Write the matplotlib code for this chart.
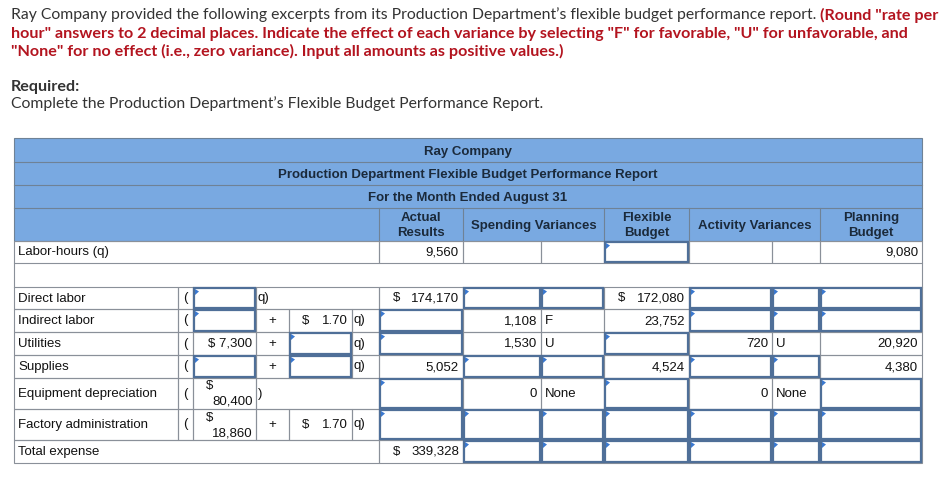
import matplotlib
matplotlib.use("Agg")
import matplotlib.pyplot as plt
from matplotlib.patches import Rectangle, Polygon

# ---- text of the exercise ----
intro_plain = "Ray Company provided the following excerpts from its Production Department\u2019s flexible budget performance report."
intro_red = ['(Round "rate per',
             'hour" answers to 2 decimal places. Indicate the effect of each variance by selecting "F" for favorable, "U" for unfavorable, and',
             '"None" for no effect (i.e., zero variance). Input all amounts as positive values.)']
required_label = "Required:"
required_text = "Complete the Production Department\u2019s Flexible Budget Performance Report."

# ---- report ----
title_lines = ["Ray Company", "Production Department Flexible Budget Performance Report",
               "For the Month Ended August 31"]
col_heads = ["Actual\nResults", "Spending Variances", "Flexible\nBudget", "Activity Variances", "Planning\nBudget"]

hours_label = "Labor-hours (q)"
hours_actual = "9,560"
hours_planning = "9,080"

cost_items = ["Direct labor", "Indirect labor", "Utilities", "Supplies",
              "Equipment depreciation", "Factory administration"]
total_label = "Total expense"
# cost formula pieces, "" = answer box, None = no cell
fixed_cost = ["", "", "$ 7,300", "", "$ 80,400", "$ 18,860"]
formula_op = ["q)", "+", "+", "+", ")", "+"]
rate_per_hour = [None, "$ 1.70", "", "", None, "$ 1.70"]

# report columns (last entry = total expense), "" = answer box
actual = ["$ 174,170", "", "", "5,052", "", "", "$ 339,328"]
spend_amt = ["", "1,108", "1,530", "", "0", "", ""]
spend_eff = ["", "F", "U", "", "None", "", ""]
flexible = ["$ 172,080", "23,752", "", "4,524", "", "", ""]
activ_amt = ["", "", "720", "", "0", "", ""]
activ_eff = ["", "", "U", "", "None", "", ""]
planning = ["", "", "20,920", "4,380", "", "", ""]

# ---- layout (pixels) ----
HEAD_BG = "#79a9e1"
GRID = "#8a9099"
HEAD_GRID = "#6f8296"
BOX = "#4f6f98"
TRI = "#3a78cf"
HEAD_TXT = "#1b2a3b"
FS = 9.5
TFONT = "Liberation Sans"

XL, XR = 14, 922
X_LAB, X_PAR, X_FIX, X_OP, X_VAR, X_FRM = 178, 193, 256, 289, 352, 379
COLS = [379, 463, 541, 604, 689, 772, 820, 922]
HEAD_Y = [138, 162, 185, 208, 241]
HOURS_Y = (241, 263)
BODY_Y = [287, 309, 332, 355, 378, 409, 440, 463]

fig = plt.figure(figsize=(9.43, 4.78), dpi=100)
ax = fig.add_axes([0, 0, 1, 1])
ax.set_xlim(0, 943)
ax.set_ylim(478, 0)
ax.axis("off")


def cell(x0, x1, y0, y1):
    ax.add_patch(Rectangle((x0, y0), x1 - x0, y1 - y0, fill=False, ec=GRID, lw=0.8, zorder=2))


def answer_box(x0, x1, y0, y1):
    ax.add_patch(Rectangle((x0 + 1, y0 + 1), x1 - x0 - 2, y1 - y0 - 2, fc="white", ec=BOX, lw=1.6, zorder=3))
    ax.add_patch(Polygon([(x0 + 2, y0 + 2), (x0 + 2, y0 + 8), (x0 + 6, y0 + 4.5)], closed=True,
                         color=TRI, lw=0, zorder=4))


def txt(x, y, s, ha="left", **kw):
    ax.text(x, y, s, ha=ha, va="center", fontsize=FS, family=TFONT, color="#111111", zorder=5, **kw)


def money(s, x0, x1, y0, y1, dollar_pad=14):
    yc = (y0 + y1) / 2 + 0.5
    if s.startswith("$ "):
        txt(x0 + dollar_pad, yc, "$")
        txt(x1 - 4, yc, s[2:], ha="right")
    else:
        txt(x1 - 4, yc, s, ha="right")


def value_or_box(s, x0, x1, y0, y1, letter=False):
    cell(x0, x1, y0, y1)
    if s == "":
        answer_box(x0, x1, y0, y1)
    elif letter:
        txt(x0 + 4, (y0 + y1) / 2 + 0.5, s)
    else:
        money(s, x0, x1, y0, y1)


# ---- intro text ----
renderer = fig.canvas.get_renderer()
IFS, IFS_B = 11.3, 11.6
RED, GREY = "#b3141f", "#333333"
t = ax.text(11, 15, intro_plain, fontsize=IFS, family="Lato", color=GREY, va="center")
bb = t.get_window_extent(renderer)
ax.text(bb.x1 + 4, 15, intro_red[0], fontsize=IFS_B, family="Lato", weight="bold", color=RED, va="center")
ax.text(11, 33.5, intro_red[1], fontsize=IFS_B, family="Lato", weight="bold", color=RED, va="center")
ax.text(11, 51.5, intro_red[2], fontsize=IFS_B, family="Lato", weight="bold", color=RED, va="center")
ax.text(11, 87, required_label, fontsize=IFS_B, family="Lato", weight="bold", color=GREY, va="center")
ax.text(11, 104, required_text, fontsize=IFS, family="Lato", color=GREY, va="center")

# ---- header ----
ax.add_patch(Rectangle((XL, HEAD_Y[0]), XR - XL, HEAD_Y[-1] - HEAD_Y[0], fc=HEAD_BG, ec=HEAD_GRID, lw=0.8, zorder=1))
for y in HEAD_Y[1:-1]:
    ax.plot([XL, XR], [y, y], color=HEAD_GRID, lw=0.8, zorder=2)
for i, s in enumerate(title_lines):
    ax.text((XL + XR) / 2, (HEAD_Y[i] + HEAD_Y[i + 1]) / 2 + 1.5, s, ha="center", va="center",
            fontsize=FS, family=TFONT, weight="bold", color=HEAD_TXT, zorder=5)
head_spans = [(COLS[0], COLS[1]), (COLS[1], COLS[3]), (COLS[3], COLS[4]), (COLS[4], COLS[6]), (COLS[6], COLS[7])]
for (x0, x1), s in zip(head_spans, col_heads):
    ax.plot([x0, x0], [HEAD_Y[3], HEAD_Y[4]], color=HEAD_GRID, lw=0.8, zorder=2)
    ax.text((x0 + x1) / 2, (HEAD_Y[3] + HEAD_Y[4]) / 2 + 1, s, ha="center", va="center", linespacing=1.25,
            fontsize=FS, family=TFONT, weight="bold", color=HEAD_TXT, zorder=5)

# ---- labor-hours row ----
y0, y1 = HOURS_Y
cell(XL, X_FRM, y0, y1)
txt(XL + 4, (y0 + y1) / 2 + 0.5, hours_label)
hours_cells = [hours_actual, None, None, "", None, None, hours_planning]
for k, s in enumerate(hours_cells):
    cx0, cx1 = COLS[k], COLS[k + 1]
    cell(cx0, cx1, y0, y1)
    if s == "":
        answer_box(cx0, cx1, y0, y1)
    elif s is not None:
        money(s, cx0, cx1, y0, y1)

# blank spacer row: only outer borders
ax.plot([XL, XL], [HOURS_Y[1], BODY_Y[0]], color=GRID, lw=0.8, zorder=2)
ax.plot([XR, XR], [HOURS_Y[1], BODY_Y[0]], color=GRID, lw=0.8, zorder=2)

# ---- cost rows ----
columns = [actual, spend_amt, spend_eff, flexible, activ_amt, activ_eff, planning]
letter_cols = [False, False, True, False, False, True, False]
for r in range(len(BODY_Y) - 1):
    y0, y1 = BODY_Y[r], BODY_Y[r + 1]
    yc = (y0 + y1) / 2 + 0.5
    if r < len(cost_items):
        cell(XL, X_LAB, y0, y1)
        txt(XL + 4, yc, cost_items[r])
        cell(X_LAB, X_PAR, y0, y1)
        txt((X_LAB + X_PAR) / 2, yc - 0.5, "(", ha="center")
        # fixed part
        cell(X_PAR, X_FIX, y0, y1)
        fx = fixed_cost[r]
        if fx == "":
            answer_box(X_PAR, X_FIX, y0, y1)
        elif y1 - y0 > 26:
            txt(X_PAR + 17, y0 + 8.5, "$", ha="center")
            txt(X_FIX - 3, y0 + 24, fx[2:], ha="right")
        else:
            txt(X_FIX - 4, yc, fx, ha="right")
        op = formula_op[r]
        if rate_per_hour[r] is None:
            cell(X_FIX, X_FRM, y0, y1)
            txt(X_FIX + 2, yc - 0.5, op)
        else:
            cell(X_FIX, X_OP, y0, y1)
            txt((X_FIX + X_OP) / 2, yc, op, ha="center")
            cell(X_OP, X_VAR, y0, y1)
            if rate_per_hour[r] == "":
                answer_box(X_OP, X_VAR, y0, y1)
            else:
                money(rate_per_hour[r], X_OP, X_VAR, y0, y1, dollar_pad=13)
            cell(X_VAR, X_FRM, y0, y1)
            txt(X_VAR + 1, yc - 0.5, "q)")
    else:
        cell(XL, X_FRM, y0, y1)
        txt(XL + 4, yc, total_label)
    for k, col in enumerate(columns):
        value_or_box(col[r], COLS[k], COLS[k + 1], y0, y1, letter=letter_cols[k])

fig.savefig("out.png", dpi=100)
